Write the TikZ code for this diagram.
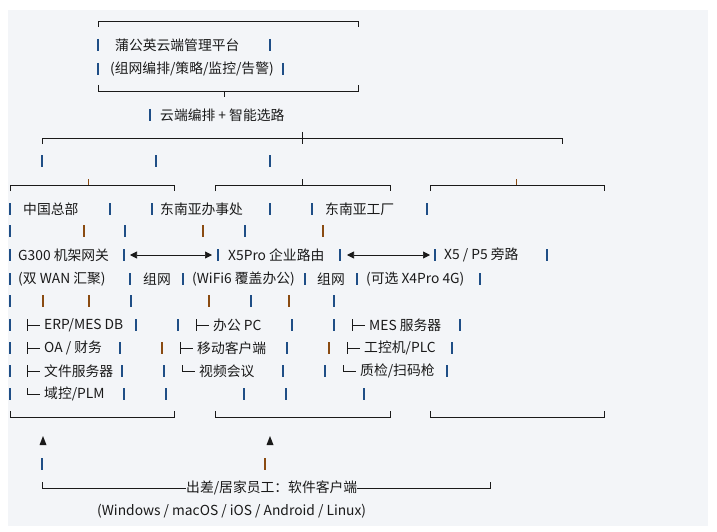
\documentclass[tikz,border=0pt]{standalone}
\usepackage{fontspec}
\setmainfont{Noto Sans CJK SC}
\usetikzlibrary{arrows.meta}
\definecolor{bg}{HTML}{F3F5F8}
\definecolor{bb}{HTML}{1F4E86}
\definecolor{br}{HTML}{8A4B12}
\definecolor{ln}{HTML}{1A1A1A}
\tikzset{
  x=1pt,y=-1pt,
  t/.style={anchor=west,inner sep=0pt,font=\fontsize{13.8}{15}\selectfont,text=ln},
  vb/.style={line width=1.3pt,bb},
  vr/.style={line width=1.3pt,br},
  hl/.style={line width=0.9pt,ln},
}
\newcommand{\vbar}[3][vb]{\draw[#1] (#2,#3-6) -- (#2,#3+6);}
\newcommand{\tee}[2]{\draw[hl] (#1,#2-6)--(#1,#2+6) (#1,#2)--(#1+13,#2);}
\newcommand{\elb}[2]{\draw[hl] (#1,#2-6)--(#1,#2)--(#1+13,#2);}
\newcommand{\brtop}[3]{\draw[hl] (#1,#3+6)--(#1,#3)--(#2,#3)--(#2,#3+6);}
\newcommand{\brbot}[3]{\draw[hl] (#1,#3-6)--(#1,#3)--(#2,#3)--(#2,#3-6);}
\begin{document}
\begin{tikzpicture}
\useasboundingbox (0,0) rectangle (717,532);
\fill[white] (0,0) rectangle (717,532);
\fill[bg] (8,10) rectangle (708,526);
% top box
\brtop{98}{358}{21}
\brbot{98}{358}{91}
\draw[hl] (224,91)--(224,97);
\vbar{98}{45}\vbar{270}{45}
\node[t] (p1) at (115,45) {蒲公英云端管理平台};
\vbar{98}{69}\vbar{283}{69}
\node[t] (p2) at (110,69) {(组网编排/策略/监控/告警)};
\vbar{150}{115}
\node[t] (p3) at (160,115) {云端编排 + 智能选路};
\brtop{42}{562}{138}
\draw[hl] (302,132)--(302,144);
\vbar{42}{161}\vbar{156}{161}\vbar{270}{161}
% site brackets
\brtop{10}{174}{185}\brtop{215}{390}{185}\brtop{430}{604}{185}
\draw[hl,br] (88,179)--(88,185);
\draw[hl] (302,179)--(302,185);
\draw[hl,br] (516,179)--(516,185);
\foreach \x in {10,110,152,270,312,427} {\vbar{\x}{209}}
\node[t] (s1) at (23,209) {中国总部};
\node[t] (s2) at (160,209) {东南亚办事处};
\node[t] (s3) at (325,209) {东南亚工厂};
\foreach \x in {10,125,245} {\vbar{\x}{231}}
\foreach \x in {84,203,323} {\vbar[vr]{\x}{231}}
% devices
\foreach \x in {10,124,218,340,435,547} {\vbar{\x}{255}}
\node[t] (g) at (18,255) {G300 机架网关};
\node[t] (x5p) at (228,255) {X5Pro 企业路由};
\node[t] (x5) at (444,255) {X5 / P5 旁路};
\draw[hl,line width=0.7pt,{Triangle[length=7pt,width=7pt]}-{Triangle[length=7pt,width=7pt]}] (130,255)--(212,255);
\draw[hl,line width=0.7pt,{Triangle[length=7pt,width=7pt]}-{Triangle[length=7pt,width=7pt]}] (347,255)--(430,255);
\foreach \x in {10,130,183,305,357,480} {\vbar{\x}{279}}
\node[t] (d1) at (18,279) {(双 WAN 汇聚)};
\node[t] (z1) at (143,279) {组网};
\node[t] (d2) at (192,279) {(WiFi6 覆盖办公)};
\node[t] (z2) at (317,279) {组网};
\node[t] (d3) at (366,279) {(可选 X4Pro 4G)};
\foreach \x in {10,131,251,334} {\vbar{\x}{301}}
\foreach \x in {43,89,209,289} {\vbar[vr]{\x}{301}}
% leaf rows
\foreach \x in {10,136,178,292,334,460} {\vbar{\x}{325}}
\tee{27}{325}\node[t] (a1) at (44,325) {ERP/MES DB};
\tee{196}{325}\node[t] (b1) at (213,325) {办公 PC};
\tee{352}{325}\node[t] (c1) at (369,325) {MES 服务器};
\foreach \x in {10,120,287,452} {\vbar{\x}{348}}
\foreach \x in {162,329} {\vbar[vr]{\x}{348}}
\tee{27}{348}\node[t] (a2) at (44,348) {OA / 财务};
\tee{180}{348}\node[t] (b2) at (197,348) {移动客户端};
\tee{347}{348}\node[t] (c2) at (364,348) {工控机/PLC};
\foreach \x in {10,122,164,283,325,447} {\vbar{\x}{371}}
\tee{27}{371}\node[t] (a3) at (44,371) {文件服务器};
\elb{182}{371}\node[t] (b3) at (199,371) {视频会议};
\elb{343}{371}\node[t] (c3) at (360,371) {质检/扫码枪};
\foreach \x in {10,124,166,244,286,364} {\vbar{\x}{394}}
\elb{27}{394}\node[t] (a4) at (44,394) {域控/PLM};
\brbot{10}{174}{417}\brbot{215}{390}{417}\brbot{430}{604}{417}
% remote
\fill[ln] (43,436)--(39.5,445)--(46.5,445)--cycle;
\fill[ln] (270,436)--(266.5,445)--(273.5,445)--cycle;
\vbar{42}{464}\vbar[vr]{265}{464}
\node[t] (r) at (186,488) {出差/居家员工：软件客户端};
\draw[hl] (42,482)--(42,488)--(r.west);
\draw[hl] (r.east)--(490,488)--(490,482);
\node[t] (os) at (97,511) {(Windows / macOS / iOS / Android / Linux)};
\end{tikzpicture}
\end{document}
